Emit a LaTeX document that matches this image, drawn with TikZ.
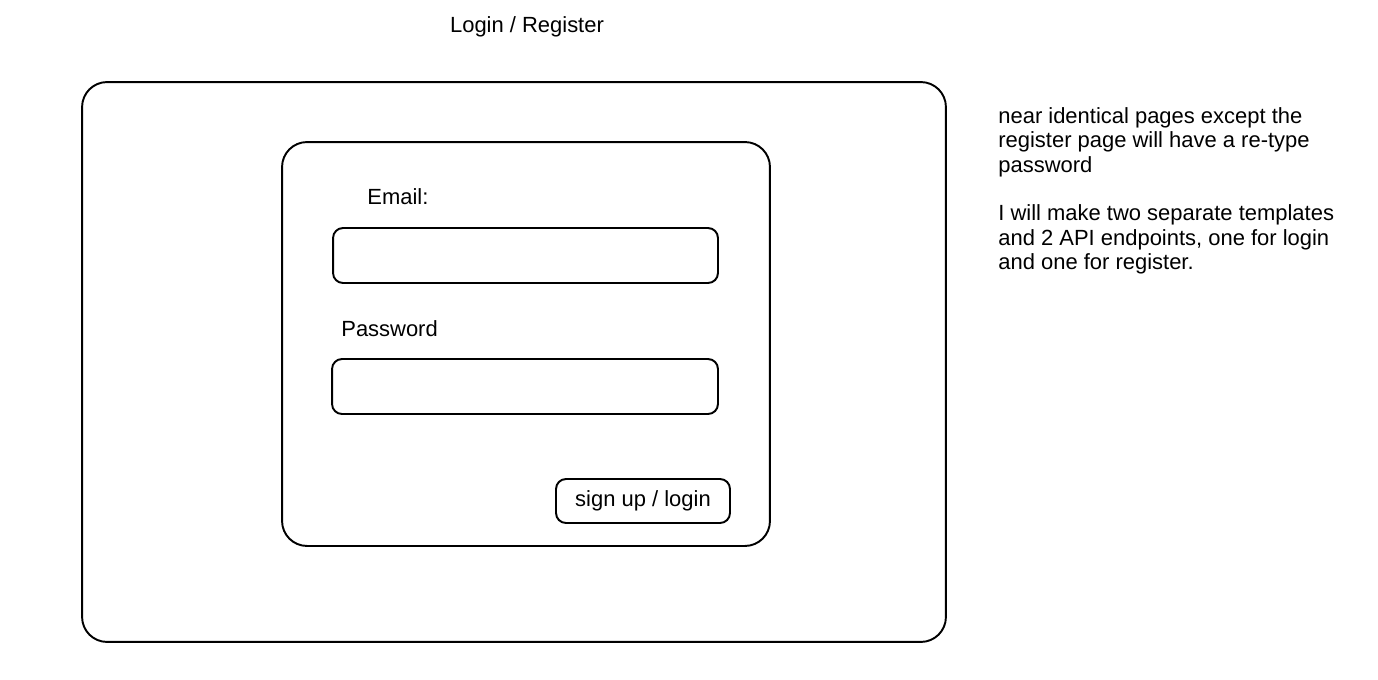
\documentclass[tikz,border=0pt]{standalone}
\usepackage{fontspec}
\setmainfont{Liberation Sans}
\usetikzlibrary{positioning}

\begin{document}
\begin{tikzpicture}[
  x=0.02cm, y=-0.02cm,
  every node/.style={font=\fontsize{12.5}{13.9}\selectfont},
  frame/.style={draw, line width=1.1pt, rounded corners=0.5cm, inner sep=0pt},
  field/.style={draw, line width=1.1pt, rounded corners=0.2cm, inner sep=0pt},
  label/.style={anchor=west, inner sep=0pt}
]
\useasboundingbox (0,0) rectangle (1378,679);
\node (title) at (527,27) {Login / Register};
\node[frame, minimum width=17.28cm, minimum height=11.2cm] (page) at (514,362) {};
\node[frame, minimum width=9.76cm, minimum height=8.08cm] (form) at (526,344) {};
\node[label] (emaillbl) at (367,197) {Email:};
\node[field, minimum width=7.7cm, minimum height=1.1cm] (email) at (525.5,255.5) {};
\node[label] (passlbl) at (341,329) {Password};
\node[field, minimum width=7.72cm, minimum height=1.1cm] (pass) at (525,386.5) {};
\node[field, minimum width=3.48cm, minimum height=0.88cm] (submit) at (643,501) {sign up / login};
\node[anchor=north west, inner sep=0pt, align=left] (note) at (998,107) {near identical pages except the\\register page will have a re-type\\password\\[13.9pt]I will make two separate templates\\and 2 API endpoints, one for login\\and one for register.};
\end{tikzpicture}
\end{document}
